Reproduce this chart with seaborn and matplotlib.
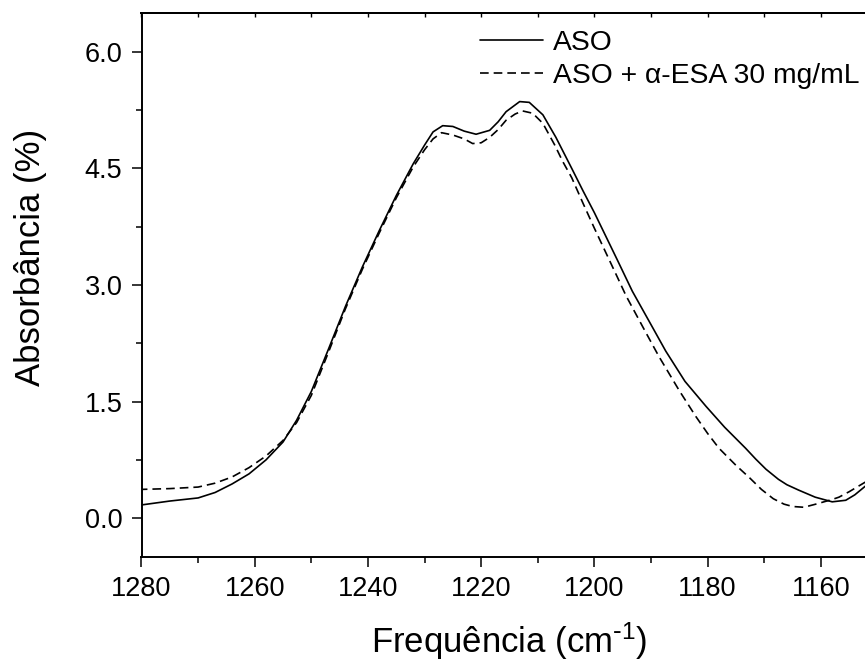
import numpy as np
import pandas as pd
import seaborn as sns
import matplotlib.pyplot as plt
from matplotlib.ticker import MultipleLocator, FormatStrFormatter

# ASO (solid)
freq_aso = [1280, 1275, 1270, 1267, 1264, 1261, 1258, 1255, 1252.6, 1250, 1247, 1244,
            1241, 1238, 1235, 1232, 1230, 1228.5, 1226.8, 1225, 1223, 1220.9, 1218.5,
            1217, 1215.6, 1213.2, 1211.5, 1209.1, 1206.8, 1204, 1202, 1200, 1198, 1196,
            1193.3, 1190, 1187.4, 1184, 1180.3, 1177, 1173.3, 1171.5, 1169.7, 1167.5,
            1166, 1163.9, 1161, 1158, 1155.6, 1154, 1152]
abs_aso = [0.17, 0.22, 0.26, 0.33, 0.44, 0.57, 0.75, 0.98, 1.26, 1.63, 2.17, 2.72,
           3.23, 3.70, 4.15, 4.56, 4.80, 4.97, 5.05, 5.04, 4.98, 4.94, 4.99,
           5.10, 5.23, 5.36, 5.35, 5.19, 4.90, 4.50, 4.21, 3.93, 3.63, 3.33,
           2.92, 2.49, 2.15, 1.76, 1.44, 1.17, 0.90, 0.76, 0.63, 0.50,
           0.43, 0.36, 0.27, 0.21, 0.23, 0.30, 0.42]

# ASO + alpha-ESA 30 mg/mL (dashed)
freq_esa = [1280, 1275, 1270, 1267, 1264, 1261, 1258, 1255, 1252.6, 1250, 1247, 1244,
            1241, 1238, 1235, 1232, 1230, 1228.5, 1227, 1225, 1223, 1221.5, 1220, 1218.5,
            1217, 1215.6, 1214, 1212.7, 1210.9, 1209.1, 1207, 1205.6, 1204, 1202, 1200,
            1198, 1196, 1194.4, 1191, 1188.6, 1185, 1182.1, 1180, 1178, 1175, 1172.6,
            1170.5, 1168.4, 1166.5, 1165, 1163, 1160.9, 1158, 1156.8, 1155, 1152]
abs_esa = [0.37, 0.38, 0.40, 0.45, 0.53, 0.65, 0.80, 1.00, 1.23, 1.58, 2.13, 2.69,
           3.20, 3.67, 4.12, 4.52, 4.74, 4.88, 4.96, 4.93, 4.88, 4.82, 4.83, 4.90,
           5.00, 5.12, 5.20, 5.24, 5.21, 5.08, 4.80, 4.59, 4.38, 4.05, 3.73,
           3.42, 3.11, 2.86, 2.40, 2.08, 1.64, 1.31, 1.09, 0.90, 0.68, 0.52,
           0.37, 0.25, 0.18, 0.15, 0.14, 0.18, 0.24, 0.27, 0.34, 0.47]

labels = ["ASO", "ASO + α-ESA 30 mg/mL"]

df = pd.concat([
    pd.DataFrame({"freq": freq_aso, "absorb": abs_aso, "amostra": labels[0]}),
    pd.DataFrame({"freq": freq_esa, "absorb": abs_esa, "amostra": labels[1]}),
])

sns.set_style("ticks")
plt.rcParams["font.family"] = ["Liberation Sans", "DejaVu Sans"]
plt.rcParams["mathtext.default"] = "regular"
for key in ["text.color", "axes.labelcolor", "xtick.color", "ytick.color", "axes.edgecolor"]:
    plt.rcParams[key] = "black"

fig = plt.figure(figsize=(8.65, 6.64), dpi=100)
ax = fig.add_axes([141.5 / 865, 1 - 557 / 664, 1 - 141.5 / 865, 544 / 664])

sns.lineplot(
    data=df, x="freq", y="absorb", style="amostra",
    dashes={labels[0]: "", labels[1]: (5.2, 3)},
    color="black", linewidth=1.2, estimator=None, ax=ax,
)

ax.set_xlim(1280, 1152.2)
ax.set_ylim(-0.5, 6.5)
ax.xaxis.set_major_locator(MultipleLocator(20))
ax.xaxis.set_minor_locator(MultipleLocator(10))
ax.yaxis.set_major_locator(MultipleLocator(1.5))
ax.yaxis.set_minor_locator(MultipleLocator(0.75))
ax.yaxis.set_major_formatter(FormatStrFormatter("%.1f"))

ax.tick_params(which="major", direction="out", length=7.2, width=1.1,
               labelsize=19.5, pad=6.5)
ax.tick_params(which="minor", direction="out", length=4.3, width=1.1)
for side in ["left", "bottom", "top"]:
    ax.spines[side].set_linewidth(1.4)
ax.spines["right"].set_visible(False)

top = ax.secondary_xaxis("top")
top.xaxis.set_major_locator(MultipleLocator(10))
top.tick_params(direction="in", length=3, width=1.0, labeltop=False)
top.spines["top"].set_linewidth(1.4)

ax.set_xlabel(r"Frequência (cm$^{\text{-}1}$)", fontsize=25)
ax.set_ylabel("Absorbância (%)", fontsize=25)
ax.xaxis.set_label_coords(0.5076, -0.117)
ax.yaxis.set_label_coords(-0.131, 0.55)

ax.legend(
    loc="upper left", bbox_to_anchor=(480 / 865, 1 - 30 / 664),
    bbox_transform=fig.transFigure, frameon=False, fontsize=20.3,
    handlelength=2.25, handletextpad=0.35, labelspacing=0.24,
    borderpad=0, borderaxespad=0,
)

fig.savefig("out.png", dpi=100)
